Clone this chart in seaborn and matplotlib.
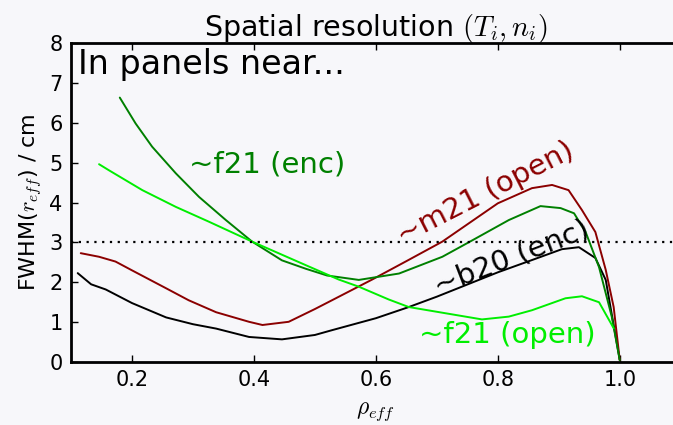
import numpy as np
import pandas as pd
import matplotlib
matplotlib.use("Agg")
import matplotlib.pyplot as plt
import seaborn as sns

# ---- data ----
b20_x = [0.111, 0.133, 0.157, 0.2, 0.256, 0.3, 0.338, 0.392, 0.446, 0.5, 0.528, 0.6, 0.654, 0.7, 0.8, 0.86, 0.905, 0.933, 0.96, 0.977, 1.0]
b20_y = [2.23, 1.95, 1.82, 1.48, 1.12, 0.95, 0.84, 0.63, 0.57, 0.68, 0.80, 1.10, 1.38, 1.64, 2.25, 2.58, 2.83, 2.88, 2.61, 2.06, 0.05]

m21_x = [0.116, 0.146, 0.173, 0.2, 0.256, 0.293, 0.338, 0.392, 0.414, 0.457, 0.5, 0.528, 0.594, 0.65, 0.709, 0.8, 0.856, 0.889, 0.916, 0.938, 0.96, 0.977, 0.99, 1.0]
m21_y = [2.73, 2.64, 2.52, 2.30, 1.85, 1.55, 1.25, 1.01, 0.93, 1.01, 1.33, 1.55, 2.07, 2.53, 3.02, 3.98, 4.36, 4.44, 4.31, 3.81, 3.26, 2.31, 1.38, 0.05]

f21enc_x = [0.180, 0.206, 0.233, 0.272, 0.310, 0.354, 0.397, 0.446, 0.485, 0.52, 0.572, 0.638, 0.709, 0.752, 0.818, 0.87, 0.903, 0.925, 0.944, 0.966, 0.987, 1.0]
f21enc_y = [6.63, 5.98, 5.40, 4.73, 4.14, 3.56, 3.02, 2.55, 2.34, 2.17, 2.06, 2.22, 2.64, 3.00, 3.56, 3.91, 3.86, 3.73, 3.26, 2.38, 1.13, 0.05]

f21open_x = [0.146, 0.162, 0.217, 0.272, 0.326, 0.397, 0.485, 0.539, 0.572, 0.621, 0.654, 0.774, 0.818, 0.856, 0.911, 0.938, 0.966, 0.99]
f21open_y = [4.96, 4.81, 4.31, 3.89, 3.52, 3.02, 2.43, 2.07, 1.89, 1.57, 1.38, 1.07, 1.14, 1.30, 1.60, 1.65, 1.50, 0.85]

threshold = 3.0
x_ticks = [0.2, 0.4, 0.6, 0.8, 1.0]
y_ticks = [0, 1, 2, 3, 4, 5, 6, 7, 8]

sns.set_style("ticks")
plt.rcParams["font.family"] = ["DejaVu Sans"]
plt.rcParams["mathtext.fontset"] = "cm"
plt.rcParams["xtick.direction"] = "in"
plt.rcParams["ytick.direction"] = "in"
for key in ["text.color", "axes.labelcolor", "xtick.color", "ytick.color", "axes.titlecolor"]:
    plt.rcParams[key] = "black"

fig = plt.figure(figsize=(6.73, 4.25), dpi=100, facecolor="#f7f7fa")
ax = fig.add_axes([0.1055, 0.148, 0.906, 0.751])
ax.set_facecolor("none")

series = [
    (b20_x, b20_y, "black"),
    (m21_x, m21_y, "#8b0000"),
    (f21enc_x, f21enc_y, "#008000"),
    (f21open_x, f21open_y, "#00ee00"),
]
for xs, ys, col in series:
    df = pd.DataFrame({"x": xs, "y": ys})
    sns.lineplot(data=df, x="x", y="y", ax=ax, color=col, linewidth=1.4, sort=False)

ax.axhline(threshold, color="black", linestyle=(0, (1, 2.5)), linewidth=1.6)

ax.set_xlim(0.1, 1.1)
ax.set_ylim(0, 8)
ax.set_xticks(x_ticks)
ax.set_xticklabels([f"{v:.1f}" for v in x_ticks])
ax.set_yticks(y_ticks)
ax.tick_params(axis="both", labelsize=15, length=5, width=1, top=True, right=True, pad=6,
               colors="black")
for sp in ax.spines.values():
    sp.set_linewidth(2)
    sp.set_color("black")

ax.set_xlabel(r"$\rho_{eff}$", fontsize=17, labelpad=6, color="black")
ax.set_ylabel(r"FWHM($r_{eff}$) / cm", fontsize=16, labelpad=4, color="black")
ax.set_title(r"Spatial resolution $(T_i,n_i)$", fontsize=20.5, pad=5, color="black")

ax.text(0.011, 0.985, "In panels near...", transform=ax.transAxes, fontsize=24,
        va="top", ha="left", color="black")
ax.text(0.421, 4.96, "~f21 (enc)", fontsize=21, color="#008000", ha="center", va="center")
ax.text(0.78, 4.22, "~m21 (open)", fontsize=21, color="#8b0000", ha="center", va="center",
        rotation=27)
ax.text(0.822, 2.62, "~b20 (enc)", fontsize=21, color="black", ha="center", va="center",
        rotation=21)
ax.text(0.816, 0.68, "~f21 (open)", fontsize=21, color="#00ee00", ha="center", va="center")

fig.savefig("out.png", dpi=100, facecolor=fig.get_facecolor())
